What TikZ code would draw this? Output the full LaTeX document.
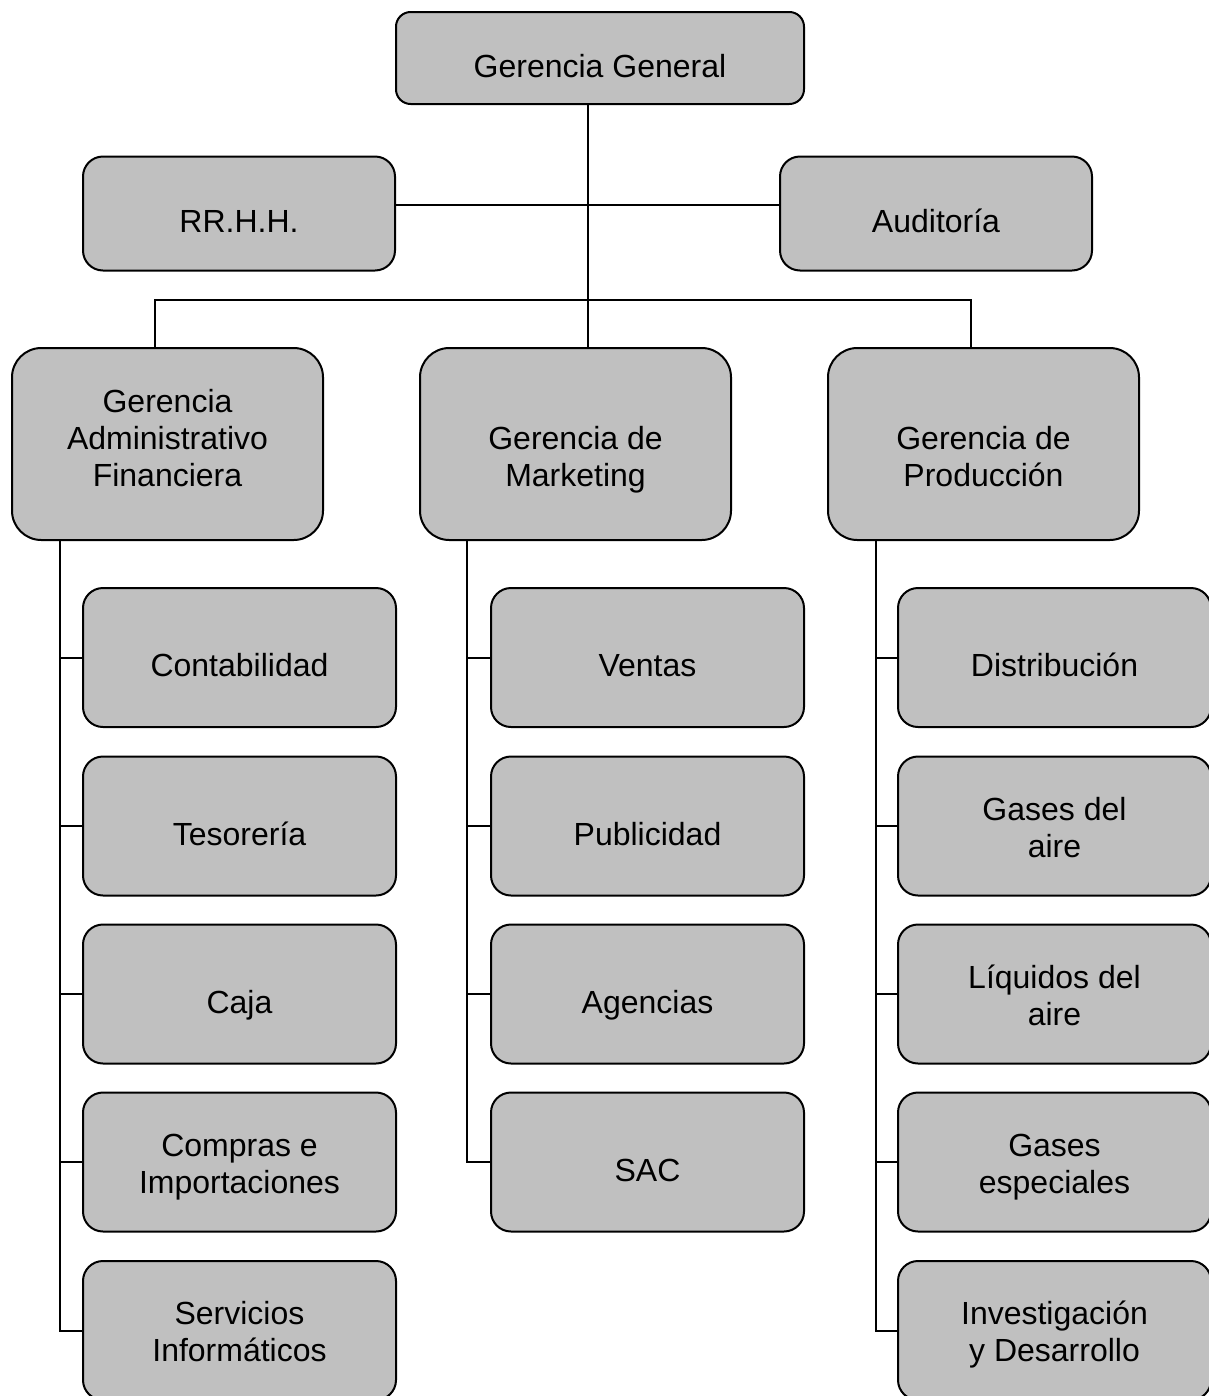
\documentclass[tikz,border=0pt]{standalone}
\usepackage{fontspec}
\setmainfont{Liberation Sans}
\definecolor{boxgray}{RGB}{192,192,192}

\begin{document}
\begin{tikzpicture}[x=0.75pt,y=-0.75pt,line width=1.5pt,
  caja/.style={draw,fill=boxgray,align=center,inner sep=0pt,font=\fontsize{24}{27.75}\selectfont},
  linea/.style={text height=29pt,text depth=0pt},
  varias/.style={text height=46.5pt,text depth=0pt},
  gral/.style={caja,linea,minimum width=306pt,minimum height=69pt,rounded corners=11pt},
  lado/.style={caja,linea,minimum width=234pt,minimum height=85.5pt,rounded corners=15pt},
  jefe/.style={caja,text height=63pt,text depth=0pt,minimum width=233.25pt,minimum height=144pt,rounded corners=22pt},
  area/.style={caja,minimum width=234.75pt,minimum height=104.25pt,rounded corners=15pt}]
\useasboundingbox (0,0) rectangle (1208,1396);
\node[gral] (gg) at (600,58) {Gerencia General};
\node[lado] (rrhh) at (239,213.5) {RR.H.H.};
\node[lado] (aud) at (936,213.5) {Auditoría};
\node[jefe] (gaf) at (167.5,444) {Gerencia\\Administrativo\\Financiera};
\node[jefe] (gm) at (575.5,444) {Gerencia de\\Marketing};
\node[jefe] (gp) at (983.5,444) {Gerencia de\\Producción};
\coordinate (tronco) at (588,205);
\coordinate (busL) at (155,300);
\coordinate (busR) at (971,300);
\draw (gg.south -| tronco) -- (gm.north -| tronco);
\draw (rrhh.east |- tronco) -- (aud.west |- tronco);
\draw (gaf.north -| busL) -- (busL) -- (busR) -- (gp.north -| busR);
\foreach \n/\y/\t/\s in {1/657.5/Contabilidad/linea,2/826/Tesorería/linea,3/994/Caja/linea,
  4/1162/{Compras e\\Importaciones}/varias,5/1330.5/{Servicios\\Informáticos}/varias}
  \node[area,\s] (fa\n) at (239.5,\y) {\t};
\foreach \n/\y/\t in {1/657.5/Ventas,2/826/Publicidad,3/994/Agencias,4/1162/SAC}
  \node[area,linea] (fm\n) at (647.5,\y) {\t};
\foreach \n/\y/\t/\s in {1/657.5/Distribución/linea,2/826/{Gases del\\aire}/varias,
  3/994/{Líquidos del\\aire}/varias,4/1162/{Gases\\especiales}/varias,
  5/1330.5/{Investigación\\y Desarrollo}/varias}
  \node[area,\s] (fp\n) at (1054.5,\y) {\t};
\coordinate (ejeA) at (60,0);
\coordinate (ejeB) at (467,0);
\coordinate (ejeC) at (876,0);
\draw (gaf.south -| ejeA) |- (fa5.west);
\draw (gm.south -| ejeB) |- (fm4.west);
\draw (gp.south -| ejeC) |- (fp5.west);
\foreach \n in {1,...,4}
  \draw (ejeA |- fa\n.west) -- (fa\n.west);
\foreach \n in {1,...,3}
  \draw (ejeB |- fm\n.west) -- (fm\n.west);
\foreach \n in {1,...,4}
  \draw (ejeC |- fp\n.west) -- (fp\n.west);
\end{tikzpicture}
\end{document}
